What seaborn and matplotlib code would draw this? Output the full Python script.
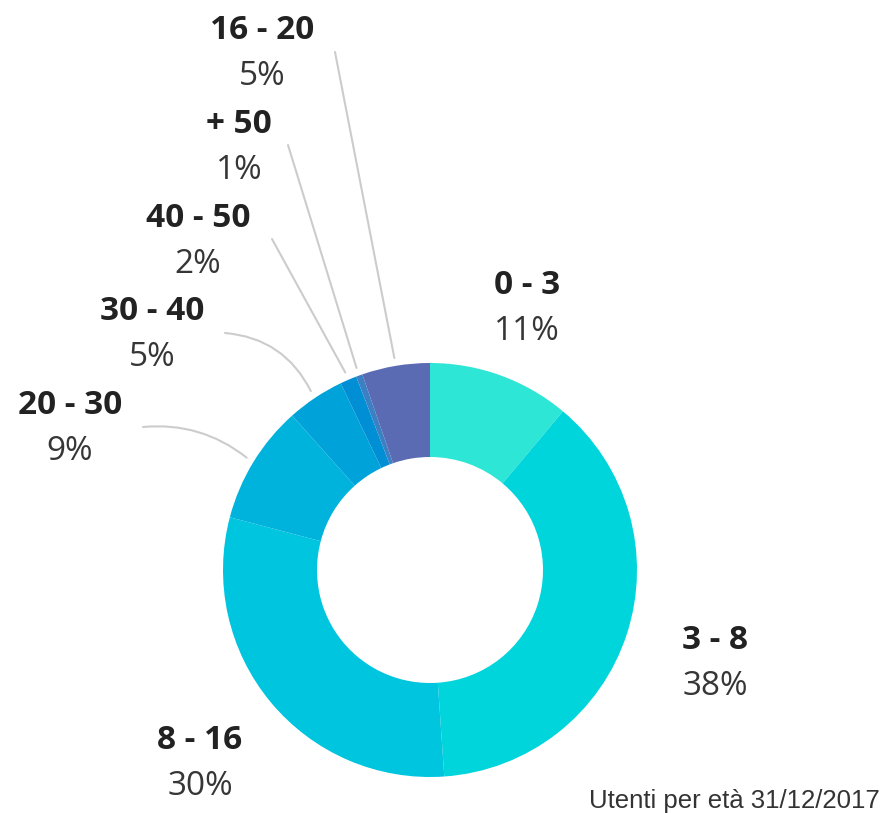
"""Donut chart: users by age group."""

import matplotlib
matplotlib.use("Agg")
import matplotlib.pyplot as plt
import seaborn as sns
import numpy as np

sns.set_theme(style="white")
plt.rcParams["font.family"] = ["Open Sans", "DejaVu Sans"]

# Data (clockwise from 12 o'clock)
ranges = ["0 - 3", "3 - 8", "8 - 16", "20 - 30", "30 - 40", "40 - 50", "+ 50", "16 - 20"]
shares = [11.1, 37.8, 30.2, 9.3, 4.5, 1.3, 0.5, 5.3]
share_labels = ["11%", "38%", "30%", "9%", "5%", "2%", "1%", "5%"]
colors = ["#2ee6d6", "#00d5dc", "#00c5df", "#00b3dd", "#00a3d9",
          "#008fd4", "#3c80c4", "#5a6ab3"]

# Layout, in pixels from the top-left corner
W, H = 883, 813
CX, CY = 430, 570
R_OUT, R_IN = 207, 113
label_pos = [(527, 294), (715, 649), (200, 749), (70, 414),
             (152, 320), (198, 227), (239, 133), (262, 39)]
leader_end = {3: (143, 427), 4: (225, 333), 5: (272, 239), 6: (288, 145), 7: (335, 52)}
leader_rad = {3: -0.2, 4: -0.28}


def py(y):
    return H - y


fig = plt.figure(figsize=(W / 100, H / 100), dpi=100)
ax = fig.add_axes([0, 0, 1, 1])

wedges, _ = ax.pie(
    shares,
    colors=colors,
    startangle=90,
    counterclock=False,
    center=(CX, py(CY)),
    radius=R_OUT,
    wedgeprops=dict(width=R_OUT - R_IN, linewidth=0),
)
ax.set_xlim(0, W)
ax.set_ylim(0, H)
ax.set_aspect("equal")
ax.axis("off")

for i, (name, pct) in enumerate(zip(ranges, share_labels)):
    x, y = label_pos[i]
    ax.text(x, py(y), name, ha="center", va="baseline", fontsize=24,
            fontweight="bold", color="#222222")
    ax.text(x, py(y + 46), pct, ha="center", va="baseline", fontsize=24,
            color="#363636")

    if i in leader_end:
        w = wedges[i]
        mid = np.deg2rad((w.theta1 + w.theta2) / 2)
        sx = CX + (R_OUT + 8) * np.cos(mid)
        sy = py(CY) + (R_OUT + 8) * np.sin(mid)
        ex, ey = leader_end[i]
        ax.annotate(
            "", xy=(sx, sy), xytext=(ex, py(ey)), annotation_clip=False,
            arrowprops=dict(arrowstyle="-", color="#cccccc", lw=1.5,
                            shrinkA=0, shrinkB=0,
                            connectionstyle=f"arc3,rad={leader_rad.get(i, 0)}"),
        )

ax.text(880, py(808), "Utenti per età 31/12/2017", ha="right", va="baseline",
        fontsize=18.5, family=["Liberation Sans"], color="#333333")

fig.savefig("out.png", dpi=100)
